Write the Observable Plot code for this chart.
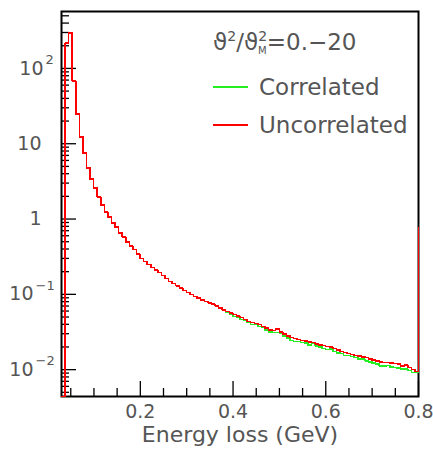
<!DOCTYPE html>
<html><head><meta charset="utf-8">
<script src="https://cdn.jsdelivr.net/npm/d3@7"></script>
<script src="https://cdn.jsdelivr.net/npm/@observablehq/plot@0.6"></script>
<style>
body{margin:0;background:#fff}
#chart{width:433px;height:450px}
</style>
</head><body><div id="chart"></div>
<script>
// histogram binning (100 bins between 0.03 and 0.8 GeV)
const binLow = 0.03, binHigh = 0.8, nBins = 100;

const uncorrelated = [
  0, 217, 295, 68, 24.8, 12.3, 7.5, 4.76, 3.40, 2.58,
  1.96, 1.53, 1.24, 1.06, 0.885, 0.783, 0.652, 0.577, 0.495, 0.438,
  0.397, 0.342, 0.301, 0.273, 0.250, 0.228, 0.210, 0.195, 0.178, 0.162,
  0.149, 0.140, 0.130, 0.121, 0.113, 0.105, 0.0988, 0.0935, 0.0888, 0.0845,
  0.0805, 0.0771, 0.0741, 0.0703, 0.0660, 0.0624, 0.0591, 0.0561, 0.0537, 0.0513,
  0.0491, 0.0464, 0.0439, 0.0421, 0.0407, 0.0395, 0.0376, 0.0356, 0.0337, 0.0329,
  0.0346, 0.0314, 0.0297, 0.0281, 0.0269, 0.0260, 0.0251, 0.0244, 0.0239, 0.0234,
  0.0228, 0.0220, 0.0213, 0.0208, 0.0204, 0.0199, 0.0190, 0.0182, 0.0175, 0.0169,
  0.0164, 0.0158, 0.0154, 0.0151, 0.0147, 0.0144, 0.0139, 0.0134, 0.0130, 0.0126,
  0.0125, 0.0124, 0.0122, 0.0121, 0.0119, 0.0112, 0.0115, 0.0106, 0.0101, 0.0095
];
const correlated = [
  0, 217, 295, 68, 24.8, 12.3, 7.5, 4.76, 3.40, 2.58,
  1.96, 1.53, 1.24, 1.06, 0.885, 0.783, 0.652, 0.577, 0.495, 0.438,
  0.397, 0.342, 0.301, 0.273, 0.250, 0.228, 0.210, 0.195, 0.178, 0.162,
  0.149, 0.140, 0.130, 0.121, 0.113, 0.105, 0.0988, 0.0935, 0.0888, 0.0845,
  0.0805, 0.0771, 0.0741, 0.0703, 0.0660, 0.0624, 0.0573, 0.0544, 0.0505, 0.0498,
  0.0462, 0.0450, 0.0426, 0.0396, 0.0395, 0.0372, 0.0365, 0.0335, 0.0317, 0.0310,
  0.0312, 0.0305, 0.0279, 0.0264, 0.0245, 0.0237, 0.0236, 0.0230, 0.0225, 0.0213,
  0.0221, 0.0207, 0.0200, 0.0190, 0.0186, 0.0187, 0.0173, 0.0166, 0.0165, 0.0154,
  0.0154, 0.0149, 0.0145, 0.0138, 0.0138, 0.0131, 0.0127, 0.0122, 0.0119, 0.0112,
  0.0111, 0.0113, 0.0108, 0.0107, 0.0105, 0.0102, 0.0102, 0.0097, 0.0092, 0.0092
];
const overflowUncorrelated = 0.76;
const overflowCorrelated = 0.76;

const seriesNames = ["Correlated", "Uncorrelated"];
const seriesColors = ["#22ee22", "#ff0000"];

const xMajorTicks = [0.2, 0.4, 0.6, 0.8];
const xTickLabels = ["0.2", "0.4", "0.6", "0.8"];
const xMinorTicks = [0.05, 0.1, 0.15, 0.25, 0.3, 0.35, 0.45, 0.5, 0.55, 0.65, 0.7, 0.75];
const yMajorTicks = [0.01, 0.1, 1, 10, 100];
const yTickBase = ["10", "10", "1", "10", "10"];
const yTickExp = ["\u22122", "\u22121", "", "", "2"];
const xTitle = "Energy loss (GeV)";
const yDomain = [0.0044, 570];

// build tables
const binWidth = (binHigh - binLow) / nBins;
function rows(values, overflow) {
  const r = values.map((v, k) => ({x: binLow + k * binWidth, y: v > 0 ? v : yDomain[0]}));
  r.push({x: binHigh, y: overflow});
  return r;
}
const rowsCorr = rows(correlated, overflowCorrelated);
const rowsUnc = rows(uncorrelated, overflowUncorrelated);

const yMinor = [];
for (let e = -3; e <= 2; e++) for (let m = 2; m <= 9; m++) {
  const v = m * Math.pow(10, e);
  if (v > yDomain[0] && v < yDomain[1]) yMinor.push(v);
}
const yLab = yMajorTicks.map((v, i) => ({v, base: yTickBase[i], exp: yTickExp[i]}));
const labPlain = yLab.filter(d => d.exp === "");
const labPos = yLab.filter(d => d.exp !== "" && !d.exp.startsWith("\u2212"));
const labNeg = yLab.filter(d => d.exp.startsWith("\u2212"));

const txt = "#555";
const plot = Plot.plot({
  width: 433, height: 450,
  marginLeft: 61, marginRight: 15, marginTop: 11, marginBottom: 54,
  x: {type: "linear", domain: [binLow, binHigh]},
  y: {type: "log", domain: yDomain},
  style: {fontFamily: "DejaVu Sans", color: txt, background: "white"},
  marks: [
    Plot.frame({stroke: "black", strokeWidth: 2}),
    Plot.axisX(xMinorTicks, {tickSize: -8, tickFormat: () => "", label: null, stroke: "black", strokeWidth: 1.3}),
    Plot.axisX(xMajorTicks, {tickSize: -15, tickFormat: () => "", label: null, stroke: "black", strokeWidth: 1.3}),
    Plot.axisX(xMajorTicks, {tickSize: 0, tickPadding: 8, tickFormat: d => xTickLabels[xMajorTicks.indexOf(d)], label: null, fontSize: 19, fill: txt}),
    Plot.axisY(yMinor, {tickSize: -8, tickFormat: () => "", label: null, stroke: "black", strokeWidth: 1.3}),
    Plot.axisY(yMajorTicks, {tickSize: -15, tickFormat: () => "", label: null, stroke: "black", strokeWidth: 1.3}),
    Plot.text(labPlain, {y: "v", text: "base", frameAnchor: "left", textAnchor: "end", dx: -20, fontSize: 19, fill: txt}),
    Plot.text(labPos, {y: "v", text: "base", frameAnchor: "left", textAnchor: "end", dx: -18, fontSize: 19, fill: txt}),
    Plot.text(labPos, {y: "v", text: "exp", frameAnchor: "left", textAnchor: "start", dx: -16, dy: -9, fontSize: 13, fill: txt}),
    Plot.text(labNeg, {y: "v", text: "base", frameAnchor: "left", textAnchor: "end", dx: -28, fontSize: 19, fill: txt}),
    Plot.text(labNeg, {y: "v", text: "exp", frameAnchor: "left", textAnchor: "start", dx: -26, dy: -9, fontSize: 13, fill: txt}),
    Plot.text([xTitle], {frameAnchor: "bottom", dy: 45, fontSize: 22, fill: txt}),
    Plot.line(rowsCorr, {x: "x", y: "y", curve: "step-after", stroke: seriesColors[0], strokeWidth: 1.5, shapeRendering: "crispEdges"}),
    Plot.line(rowsUnc, {x: "x", y: "y", curve: "step-after", stroke: seriesColors[1], strokeWidth: 1.5, shapeRendering: "crispEdges"})
  ]
});
document.getElementById("chart").appendChild(plot);

// in-frame legend
const svg = d3.select(plot);
const g = svg.append("g").attr("font-family", "DejaVu Sans").attr("fill", txt).attr("text-anchor", "start");
const f = g.append("text").attr("x", 213).attr("y", 50).attr("font-size", 23).attr("text-anchor", "start");
f.append("tspan").text("\u03D1");
f.append("tspan").attr("dy", -9).attr("font-size", 14).text("2");
f.append("tspan").attr("dy", 9).text("/\u03D1");
f.append("tspan").attr("dy", -9).attr("font-size", 14).text("2");
f.append("tspan").attr("dx", -9).attr("dy", 13).attr("font-size", 10).text("M");
f.append("tspan").attr("dy", -4).text("=0.\u221220");
const legendY = [87, 125];
seriesNames.forEach((name, i) => {
  g.append("line").attr("x1", 213).attr("x2", 248).attr("y1", legendY[i]).attr("y2", legendY[i])
    .attr("stroke", seriesColors[i]).attr("stroke-width", 2);
  g.append("text").attr("x", 259).attr("y", legendY[i] + 8).attr("font-size", 23)
    .attr("text-anchor", "start").text(name);
});
</script>
</body></html>
